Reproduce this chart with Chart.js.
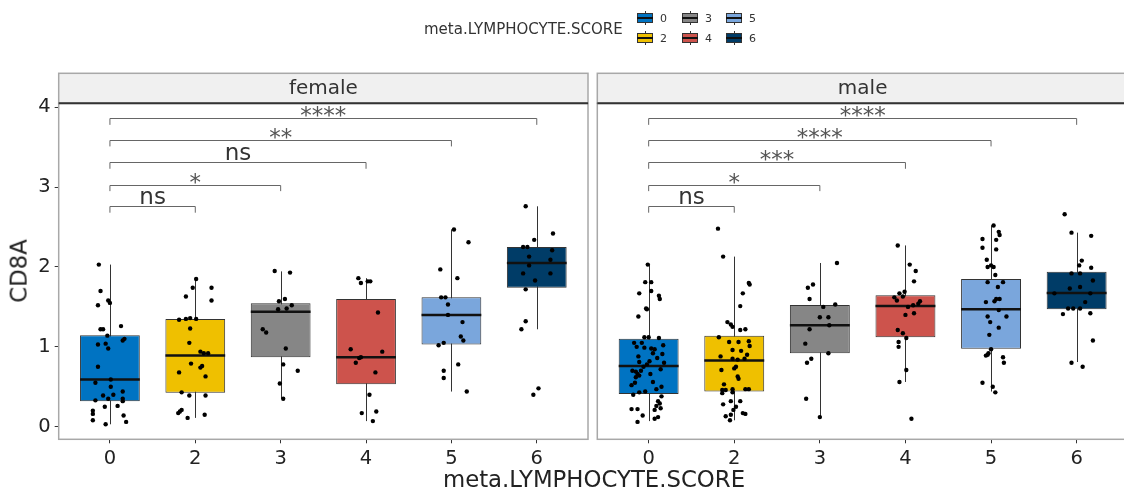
<!DOCTYPE html>
<html>
<head>
<meta charset="utf-8">
<script src="https://cdn.jsdelivr.net/npm/chart.js@4.4.1/dist/chart.umd.min.js"></script>
<style>
html, body { margin: 0; padding: 0; background: #fff; }
body { width: 1124px; height: 492px; position: relative; overflow: hidden; font-family: "DejaVu Sans", sans-serif; }
canvas { position: absolute; top: 0; }
#female { left: 0; }
#male { left: 592px; }
.txt { position: absolute; white-space: nowrap; line-height: 1; color: #222; }
.key { position: absolute; width: 16px; height: 14px; }
.key .wh { position: absolute; left: 7.5px; top: 0; width: 1px; height: 14px; background: #333; }
.key .bx { position: absolute; left: 0; top: 2px; width: 14px; height: 8px; border: 1px solid #333; }
.key .md { position: absolute; left: 0; top: 6px; width: 16px; height: 2px; background: #111; }
</style>
</head>
<body>
<canvas id="female" width="592" height="492"></canvas>
<canvas id="male" width="540" height="492"></canvas>
<div id="legend"></div>
<div class="txt" style="left:424px; top:22px; font-size:15px; color:#333;">meta.LYMPHOCYTE.SCORE</div>
<div class="txt" style="left:594px; top:468px; font-size:22.8px; transform:translateX(-50%);">meta.LYMPHOCYTE.SCORE</div>
<div class="txt" style="left:19px; top:271px; font-size:22.8px; transform:translate(-50%,-50%) rotate(-90deg);">CD8A</div>
<script>
// categories of meta.LYMPHOCYTE.SCORE
const categories = ['0', '2', '3', '4', '5', '6'];
const yTicks = [0, 1, 2, 3, 4];
const palette = ['#0073C2', '#EFC000', '#868686', '#CD534C', '#7AA6DC', '#003C67'];

// box statistics, female
const femaleLow = [0.03, 0.11, 0.35, 0.07, 0.44, 1.22];
const femaleQ1 = [0.32, 0.425, 0.87, 0.53, 1.03, 1.74];
const femaleMedian = [0.59, 0.89, 1.44, 0.87, 1.40, 2.05];
const femaleQ3 = [1.146, 1.35, 1.545, 1.60, 1.62, 2.25];
const femaleHigh = [2.03, 1.86, 1.945, 1.86, 2.47, 2.76];

// box statistics, male
const maleLow = [0.07, 0.08, 0.12, 0.56, 0.44, 0.81];
const maleQ1 = [0.41, 0.44, 0.92, 1.12, 0.975, 1.47];
const maleMedian = [0.76, 0.83, 1.27, 1.51, 1.47, 1.675];
const maleQ3 = [1.10, 1.14, 1.525, 1.645, 1.85, 1.94];
const maleHigh = [2.03, 2.13, 2.05, 2.27, 2.52, 2.43];

// jittered samples: [jitter, CD8A]
const female0 = [[-0.13,2.03],[-0.11,1.70],[-0.14,1.52],[-0.02,1.58],[0.0,1.55],[0.13,1.26],[-0.11,1.22],[-0.08,1.22],[-0.03,1.14],[0.17,1.10],[0.15,1.08],[-0.14,1.03],[-0.05,1.04],[-0.02,0.98],[-0.14,0.75],[0.01,0.59],[-0.17,0.55],[0.01,0.50],[-0.08,0.39],[0.04,0.40],[0.15,0.44],[-0.17,0.33],[0.15,0.35],[0.15,0.32],[0.09,0.26],[-0.06,0.25],[-0.2,0.20],[-0.2,0.16],[-0.2,0.08],[0.16,0.14],[0.19,0.06],[-0.05,0.03],[-0.02,0.35]];
const female2 = [[0.01,1.85],[-0.11,1.63],[-0.03,1.74],[0.19,1.74],[0.19,1.58],[-0.19,1.34],[-0.11,1.35],[-0.06,1.36],[0.01,1.35],[-0.06,1.23],[-0.07,1.05],[0.06,0.94],[0.1,0.92],[0.15,0.92],[-0.05,0.79],[0.06,0.74],[0.08,0.76],[-0.19,0.68],[0.12,0.63],[-0.16,0.43],[-0.07,0.39],[0.12,0.39],[-0.2,0.17],[-0.18,0.19],[-0.16,0.21],[-0.09,0.11],[0.11,0.15]];
const female3 = [[-0.07,1.95],[0.11,1.93],[0.05,1.60],[-0.02,1.57],[0.13,1.52],[-0.03,1.47],[0.07,1.48],[-0.21,1.22],[-0.17,1.18],[0.06,0.98],[0.03,0.78],[0.2,0.70],[-0.01,0.54],[0.03,0.35]];
const female4 = [[-0.09,1.86],[-0.06,1.80],[0.02,1.82],[0.05,1.82],[0.14,1.43],[-0.18,0.97],[-0.08,0.86],[-0.06,0.87],[-0.12,0.80],[0.19,0.94],[0.11,0.68],[0.04,0.40],[-0.05,0.17],[0.12,0.19],[0.08,0.07]];
const female5 = [[0.03,2.47],[0.2,2.31],[-0.13,1.97],[0.07,1.86],[-0.12,1.62],[-0.07,1.62],[-0.04,1.53],[-0.04,1.40],[0.13,1.31],[0.11,1.13],[0.14,1.08],[-0.15,1.02],[-0.09,1.05],[-0.09,0.70],[-0.09,0.61],[0.08,0.78],[0.18,0.44]];
const female6 = [[-0.13,2.76],[-0.03,2.34],[0.19,2.42],[-0.16,2.25],[-0.11,2.25],[0.18,2.21],[-0.09,2.13],[0.16,2.09],[-0.09,2.02],[-0.16,1.92],[0.16,1.92],[-0.02,1.83],[-0.13,1.72],[-0.13,1.32],[-0.18,1.22],[-0.04,0.40],[0.02,0.48]];

const male0 = [[-0.01,2.03],[-0.04,1.81],[0.03,1.81],[-0.11,1.67],[0.03,1.70],[0.12,1.64],[0.13,1.60],[-0.03,1.48],[-0.02,1.47],[-0.12,1.38],[-0.05,1.12],[0.0,1.12],[0.12,1.11],[-0.17,1.05],[-0.14,1.00],[0.03,0.98],[0.07,0.97],[0.17,1.02],[0.16,0.91],[0.01,0.82],[-0.11,0.81],[-0.06,0.75],[-0.19,0.70],[-0.15,0.69],[-0.13,0.66],[-0.11,0.64],[-0.15,0.62],[0.05,0.56],[-0.2,0.52],[0.15,0.50],[-0.18,0.40],[-0.11,0.43],[0.15,0.38],[0.11,0.32],[0.13,0.29],[0.09,0.26],[0.14,0.23],[0.07,0.21],[-0.2,0.22],[-0.13,0.22],[0.11,0.12],[0.07,0.10],[-0.07,0.14],[-0.13,0.06],[-0.08,1.05],[-0.05,0.99],[0.05,0.92],[-0.12,0.88],[0.1,0.86],[-0.02,0.78],[0.14,0.72],[-0.09,0.70],[0.02,0.66],[-0.16,0.55],[0.09,0.47],[-0.04,0.44],[0.18,0.80]];
const male2 = [[-0.19,2.48],[-0.13,2.13],[0.17,1.80],[0.18,1.78],[0.1,1.67],[0.07,1.51],[-0.08,1.31],[-0.04,1.28],[-0.02,1.25],[0.07,1.21],[0.13,1.22],[-0.18,1.12],[-0.06,1.06],[0.05,1.06],[0.17,1.07],[0.18,1.01],[-0.02,0.96],[0.08,0.95],[-0.16,0.88],[-0.02,0.85],[0.04,0.84],[0.12,0.85],[-0.15,0.71],[0.02,0.75],[0.0,0.73],[0.05,0.60],[0.04,0.63],[-0.14,0.46],[-0.1,0.46],[-0.02,0.47],[0.13,0.47],[0.17,0.47],[-0.14,0.42],[-0.02,0.43],[-0.13,0.28],[-0.04,0.32],[0.07,0.32],[0.02,0.25],[-0.01,0.21],[0.1,0.17],[0.13,0.16],[-0.1,0.13],[-0.04,0.15],[-0.05,0.08],[-0.12,0.53],[0.15,0.90]];
const male3 = [[0.2,2.05],[-0.08,1.78],[-0.14,1.74],[-0.12,1.60],[0.04,1.50],[0.18,1.53],[0.0,1.37],[0.1,1.37],[0.11,1.27],[-0.12,1.22],[-0.17,1.04],[0.1,0.92],[-0.1,0.85],[-0.15,0.80],[-0.16,0.35],[0.0,0.12]];
const male4 = [[-0.09,2.27],[0.05,2.03],[0.12,1.95],[0.1,1.82],[-0.01,1.69],[-0.07,1.67],[-0.13,1.62],[-0.1,1.58],[-0.03,1.63],[0.17,1.57],[0.15,1.54],[0.09,1.52],[0.03,1.50],[0.0,1.40],[0.1,1.42],[-0.09,1.21],[-0.03,1.17],[0.01,1.11],[-0.08,1.06],[-0.08,1.00],[0.01,0.71],[-0.07,0.56],[0.07,0.10]];
const male5 = [[0.03,2.52],[0.09,2.44],[-0.1,2.35],[0.06,2.34],[0.1,2.40],[-0.1,2.24],[0.06,2.22],[-0.05,2.09],[0.0,2.02],[-0.04,2.0],[0.03,2.0],[0.05,1.90],[-0.04,1.81],[0.14,1.81],[0.08,1.75],[0.06,1.60],[0.1,1.60],[0.04,1.57],[-0.06,1.56],[0.09,1.46],[-0.04,1.38],[0.18,1.38],[-0.01,1.31],[0.09,1.24],[-0.02,1.15],[0.0,0.97],[-0.04,0.90],[-0.06,0.89],[-0.03,0.92],[0.14,0.87],[0.15,0.80],[-0.1,0.55],[0.02,0.50],[0.05,0.43]];
const male6 = [[-0.14,2.66],[-0.06,2.43],[0.17,2.39],[0.06,2.08],[0.03,2.02],[0.17,1.99],[-0.06,1.92],[0.04,1.92],[0.19,1.83],[-0.26,1.67],[-0.08,1.73],[0.04,1.75],[0.16,1.67],[0.1,1.56],[-0.16,1.41],[-0.1,1.48],[-0.04,1.48],[0.04,1.48],[0.16,1.42],[0.19,1.08],[-0.06,0.80],[0.07,0.75]];

const femalePoints = [female0, female2, female3, female4, female5, female6];
const malePoints = [male0, male2, male3, male4, male5, male6];

// pairwise comparisons against score 0
const comparisons = [['0', '2'], ['0', '3'], ['0', '4'], ['0', '5'], ['0', '6']];
const bracketY = [2.76, 3.03, 3.31, 3.59, 3.86];
const femaleSignif = ['ns', '*', 'ns', '**', '****'];
const maleSignif = ['ns', '*', '***', '****', '****'];

const FONT = '"DejaVu Sans", sans-serif';

// legend
const legend = document.getElementById('legend');
const keyCols = [637, 682, 726];
categories.forEach((c, i) => {
    const col = Math.floor(i / 2), row = i % 2;
    const key = document.createElement('div');
    key.className = 'key';
    key.style.left = keyCols[col] + 'px';
    key.style.top = (11 + row * 20) + 'px';
    key.innerHTML = '<div class="wh"></div><div class="bx" style="background:' + palette[i] + '"></div><div class="md"></div>';
    legend.appendChild(key);
    const lbl = document.createElement('div');
    lbl.className = 'txt';
    lbl.style.cssText = 'left:' + (keyCols[col] + 23) + 'px; top:' + (13 + row * 20) + 'px; font-size:11px; color:#333;';
    lbl.textContent = c;
    legend.appendChild(lbl);
});

function panelPlugin(strip, low, med, high, signif) {
    return {
        id: 'panel_' + strip,
        beforeDatasetsDraw(chart) {
            const { ctx, scales: { x, y } } = chart;
            ctx.save();
            ctx.strokeStyle = '#333';
            ctx.lineWidth = 1;
            categories.forEach((c, i) => {
                const px = Math.round(x.getPixelForValue(i)) + 0.5;
                ctx.beginPath();
                ctx.moveTo(px, y.getPixelForValue(low[i]));
                ctx.lineTo(px, y.getPixelForValue(high[i]));
                ctx.stroke();
            });
            ctx.restore();
        },
        afterDatasetDraw(chart, args) {
            if (args.meta.type !== 'bar') return;
            const { ctx, scales: { y } } = chart;
            ctx.save();
            ctx.strokeStyle = '#111';
            ctx.lineWidth = 2.5;
            args.meta.data.forEach((el, i) => {
                const py = y.getPixelForValue(med[i]);
                ctx.beginPath();
                ctx.moveTo(el.x - el.width / 2, py);
                ctx.lineTo(el.x + el.width / 2, py);
                ctx.stroke();
            });
            ctx.restore();
        },
        afterDraw(chart) {
            const { ctx, chartArea: a, scales: { x, y } } = chart;
            const w = a.right - a.left;
            ctx.save();
            // panel border
            ctx.strokeStyle = '#A8A8A8';
            ctx.lineWidth = 1.5;
            ctx.strokeRect(a.left, a.top, w, a.bottom - a.top);
            // strip
            ctx.fillStyle = '#F0F0F0';
            ctx.fillRect(a.left, a.top - 30, w, 30);
            ctx.strokeRect(a.left, a.top - 30, w, 30);
            ctx.strokeStyle = '#333';
            ctx.lineWidth = 2;
            ctx.beginPath();
            ctx.moveTo(a.left, a.top);
            ctx.lineTo(a.right, a.top);
            ctx.stroke();
            ctx.fillStyle = '#333';
            ctx.font = '20px ' + FONT;
            ctx.textAlign = 'center';
            ctx.textBaseline = 'middle';
            ctx.fillText(strip, a.left + w / 2, a.top - 15);
            // significance brackets
            comparisons.forEach((cmp, k) => {
                const x1 = x.getPixelForValue(categories.indexOf(cmp[0]));
                const x2 = x.getPixelForValue(categories.indexOf(cmp[1]));
                const yb = Math.round(y.getPixelForValue(bracketY[k])) + 0.5;
                const yt = y.getPixelForValue(bracketY[k] - 0.08);
                ctx.strokeStyle = '#666';
                ctx.lineWidth = 1;
                ctx.beginPath();
                ctx.moveTo(x1, yt);
                ctx.lineTo(x1, yb);
                ctx.lineTo(x2, yb);
                ctx.lineTo(x2, yt);
                ctx.stroke();
                const label = signif[k];
                ctx.textBaseline = 'alphabetic';
                ctx.font = '23px ' + FONT;
                if (label === 'ns') {
                    ctx.fillStyle = '#333';
                    ctx.fillText(label, (x1 + x2) / 2, yb - 3);
                } else {
                    ctx.fillStyle = '#555';
                    ctx.fillText(label, (x1 + x2) / 2, yb + 4);
                }
            });
            ctx.restore();
        }
    };
}

function buildPanel(canvasId, strip, low, q1, med, q3, high, points, signif, showY, padLeft, padRight) {
    const ctx = document.getElementById(canvasId).getContext('2d');
    const jitter = [];
    points.forEach((grp, i) => grp.forEach(p => jitter.push({ x: i + p[0], y: p[1] })));
    return new Chart(ctx, {
        data: {
            datasets: [{
                type: 'bar',
                data: categories.map((c, i) => ({ x: i, y: [q1[i], q3[i]] })),
                backgroundColor: palette,
                borderColor: '#333',
                borderWidth: 1,
                borderSkipped: false,
                barPercentage: 0.7,
                categoryPercentage: 1,
                order: 1
            }, {
                type: 'scatter',
                data: jitter,
                pointRadius: 2.2,
                pointBackgroundColor: '#000',
                pointBorderWidth: 0,
                order: 0
            }]
        },
        options: {
            responsive: false,
            animation: false,
            layout: { padding: { left: padLeft, right: padRight, top: 103.3, bottom: 0 } },
            plugins: { legend: { display: false }, tooltip: { enabled: false } },
            scales: {
                x: {
                    type: 'linear',
                    offset: false,
                    min: -0.6,
                    max: 5.6,
                    afterBuildTicks: s => { s.ticks = categories.map((c, i) => ({ value: i })); },
                    afterFit: s => { s.height = 52.7; },
                    grid: { offset: false, drawOnChartArea: false, drawTicks: true, tickLength: 4, color: '#333' },
                    border: { display: false },
                    ticks: { callback: (v, i) => categories[i], font: { size: 19.5, family: FONT }, color: '#222', padding: 4, maxRotation: 0 }
                },
                y: {
                    display: showY,
                    min: -0.158,
                    max: 4.05,
                    afterBuildTicks: s => { s.ticks = yTicks.map(v => ({ value: v })); },
                    afterFit: s => { if (showY) s.width = 58.7; },
                    grid: { drawOnChartArea: false, drawTicks: true, tickLength: 4, color: '#333' },
                    border: { display: false },
                    ticks: { font: { size: 19.5, family: FONT }, color: '#222', padding: 4 }
                }
            }
        },
        plugins: [panelPlugin(strip, low, med, high, signif)]
    });
}

buildPanel('female', 'female', femaleLow, femaleQ1, femaleMedian, femaleQ3, femaleHigh, femalePoints, femaleSignif, true, 0, 2.7);
buildPanel('male', 'male', maleLow, maleQ1, maleMedian, maleQ3, maleHigh, malePoints, maleSignif, false, 5.3, 4);
</script>
</body>
</html>
